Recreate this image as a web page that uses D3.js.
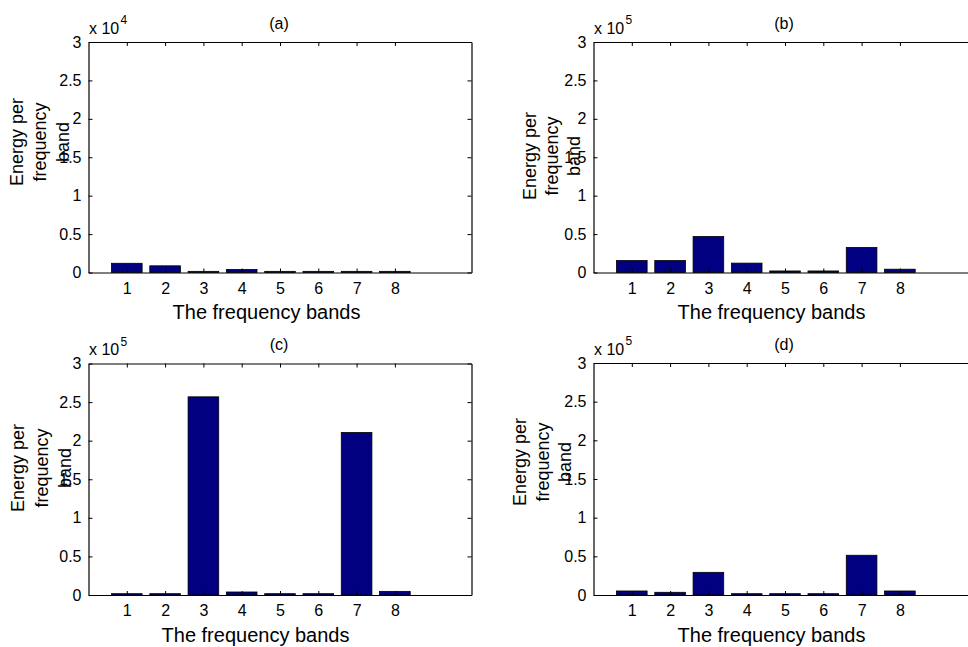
<!DOCTYPE html>
<html>
<head>
<meta charset="utf-8">
<script src="https://cdn.jsdelivr.net/npm/d3@7"></script>
<style>
  html, body { margin: 0; padding: 0; background: #fff; }
  svg { display: block; }
  text { font-family: "Liberation Sans", Arial, sans-serif; fill: #000; }
</style>
</head>
<body>
<svg id="chart" width="968" height="647"></svg>
<script>
// ---- data ----
const categories = [1, 2, 3, 4, 5, 6, 7, 8];
const energyA = [1200, 870, 150, 400, 150, 150, 150, 150];          // panel (a)
const energyB = [15500, 15500, 46800, 12200, 2000, 2000, 32600, 4300];   // panel (b)
const energyC = [1700, 1700, 256800, 3900, 1700, 1700, 210600, 4700];    // panel (c)
const energyD = [5200, 3500, 29300, 1700, 1700, 1700, 51400, 5200];      // panel (d)
const panelTitles = ["(a)", "(b)", "(c)", "(d)"];
const exponents = [4, 5, 5, 5];
const yTickValues = [0, 0.5, 1, 1.5, 2, 2.5, 3];
const xDomain = [0, 10];
const yMaxScaled = 3;
const xLabelText = "The frequency bands";
const yLabelLines = ["Energy per", "frequency", "band"];

// ---- layout ----
const layout = [
  { left: 88.5, right: 471.5, top: 42, bottom: 272.5, xLabelDx: 178, yLabelX: [23, 46, 69], yLabelY: 142 },
  { left: 593.5, right: 976.5, top: 42, bottom: 272.5, xLabelDx: 178, yLabelX: [536, 557.5, 579.5], yLabelY: 156 },
  { left: 88.5, right: 471.5, top: 363.5, bottom: 595, xLabelDx: 167, yLabelX: [24, 47.5, 70.5], yLabelY: 468 },
  { left: 593.5, right: 976.5, top: 363, bottom: 595, xLabelDx: 178, yLabelX: [525.5, 548.5, 571], yLabelY: 462 }
];
const series = [energyA, energyB, energyC, energyD];

const svg = d3.select("#chart");

series.forEach((vals, i) => {
  const L = layout[i];
  const factor = Math.pow(10, exponents[i]);
  const x = d3.scaleLinear().domain(xDomain).range([L.left, L.right]);
  const y = d3.scaleLinear().domain([0, yMaxScaled * factor]).range([L.bottom, L.top]);
  const g = svg.append("g");

  // bars
  g.selectAll("rect.bar").data(categories).enter().append("rect")
    .attr("class", "bar")
    .attr("x", d => x(d - 0.4))
    .attr("width", d => x(d + 0.4) - x(d - 0.4))
    .attr("y", (d, j) => y(vals[j]))
    .attr("height", (d, j) => y(0) - y(vals[j]))
    .attr("fill", "#000080")
    .attr("stroke", "#000")
    .attr("stroke-width", 0.8);

  // axes (ticks inward)
  const yTicks = yTickValues.map(v => v * factor);
  const axL = d3.axisLeft(y).tickValues(yTicks).tickSizeInner(-4).tickSizeOuter(0)
    .tickPadding(7).tickFormat(v => d3.format("")(+(v / factor).toFixed(2)));
  const axR = d3.axisRight(y).tickValues(yTicks).tickSizeInner(-4).tickSizeOuter(0).tickFormat("");
  const axB = d3.axisBottom(x).tickValues(categories).tickSizeInner(-4).tickSizeOuter(0)
    .tickPadding(10).tickFormat(d3.format("d"));
  const axT = d3.axisTop(x).tickValues(categories).tickSizeInner(-4).tickSizeOuter(0).tickFormat("");

  const gl = g.append("g").attr("transform", `translate(${L.left},0)`).call(axL);
  const gr = g.append("g").attr("transform", `translate(${L.right},0)`).call(axR);
  const gb = g.append("g").attr("transform", `translate(0,${L.bottom})`).call(axB);
  const gt = g.append("g").attr("transform", `translate(0,${L.top})`).call(axT);
  [gl, gr, gb, gt].forEach(a => {
    a.selectAll("path.domain").attr("stroke", "#000").attr("stroke-width", 1.2);
    a.selectAll(".tick line").attr("stroke", "#000").attr("stroke-width", 1);
    a.selectAll(".tick text").attr("font-size", 16)
      .attr("font-family", "'Liberation Sans', Arial, sans-serif").attr("fill", "#000");
  });

  // multiplier label
  g.append("text").attr("x", L.left + 0.5).attr("y", L.top - 8.5)
    .attr("font-size", 16).text("x 10");
  g.append("text").attr("x", L.left + 32).attr("y", L.top - 18)
    .attr("font-size", 12).text(exponents[i]);

  // title
  g.append("text").attr("x", (L.left + L.right) / 2 - 1).attr("y", L.top - 13.5)
    .attr("text-anchor", "middle").attr("font-size", 16).text(panelTitles[i]);

  // x label
  g.append("text").attr("x", L.left + L.xLabelDx).attr("y", L.bottom + 46.5)
    .attr("text-anchor", "middle").attr("font-size", 20).text(xLabelText);

  // y label (three lines, rotated)
  yLabelLines.forEach((line, k) => {
    g.append("text")
      .attr("transform", `translate(${L.yLabelX[k]},${L.yLabelY}) rotate(-90)`)
      .attr("text-anchor", "middle").attr("font-size", 18).text(line);
  });
});
</script>
</body>
</html>
